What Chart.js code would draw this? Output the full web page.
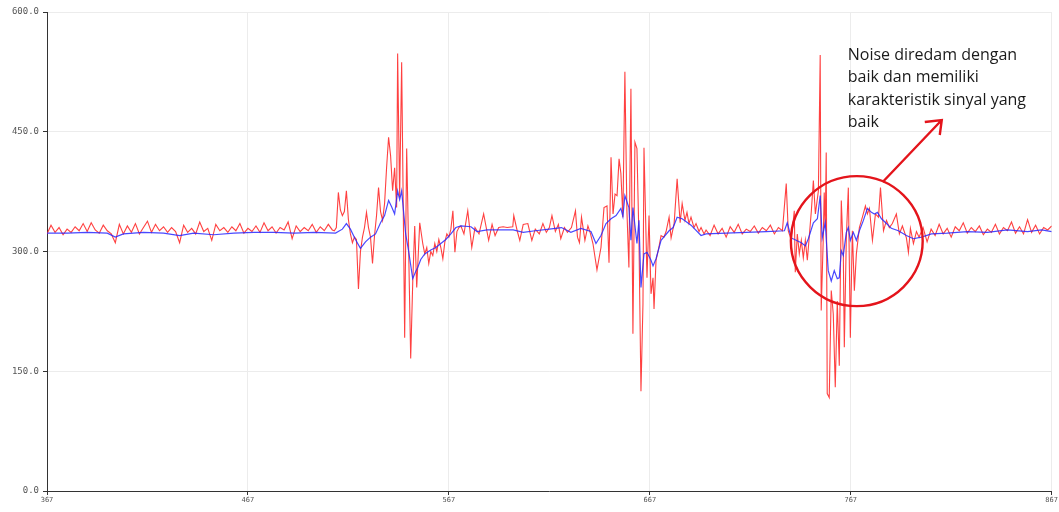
<!DOCTYPE html>
<html>
<head>
<meta charset="utf-8">
<script src="https://cdn.jsdelivr.net/npm/chart.js@4.4.1/dist/chart.umd.min.js"></script>
<style>
  html, body { margin: 0; padding: 0; background: #fff; }
  #wrap { width: 1059px; height: 512px; }
</style>
</head>
<body>
<div id="wrap"><canvas id="chart" width="1059" height="512"></canvas></div>
<script>
var xTicks = [367, 467, 567, 667, 767, 867];
var yTicks = [0, 150, 300, 450, 600];

// raw signal (red)
var rawX = [
  367, 369, 371, 373, 375, 377, 379, 381, 383, 385, 387, 389, 391, 393, 395, 397, 399, 401, 403, 405,
  407, 409, 411, 413, 415, 417, 419, 421, 423, 425, 427, 429, 431, 433, 435, 437, 439, 441, 443, 445,
  447, 449, 451, 453, 455, 457, 459, 461, 463, 465, 467, 469, 471, 473, 475, 477, 479, 481, 483, 485,
  487, 489, 491, 493, 495, 497, 499, 501, 503, 505, 507, 509,
  510, 511, 512, 513, 514, 515, 516, 517, 518, 519, 520, 521, 522, 523, 524, 525, 526, 527, 528, 529,
  530, 531, 532, 533, 534, 535, 536, 537, 538, 539, 540, 541, 541.5, 542.5, 543.5, 544.5, 545, 546, 547, 548,
  549, 550, 551, 552.5, 554, 555, 556, 557, 558, 559, 560, 561, 562, 563, 564, 565, 566, 567, 568, 569,
  570, 571,
  572, 573, 574.5, 576.4, 578.4, 580, 582, 584.3, 586.8, 588.5, 590, 591.8, 594, 596, 598.8, 599.3, 601, 602.3, 604, 606.3,
  608.3, 610, 612, 613.8, 615.5, 617, 618.3, 620, 621.5, 622.7, 624.5, 626,
  628, 630, 631, 632, 633, 634.7, 636.2, 637.5, 638.7, 640.7, 642.7, 644.2, 645.7, 646.7, 647.7, 648.7, 649.7, 650.7, 651.7, 652.6,
  653.6, 654.6, 655.6, 656.6, 657.6, 658.6, 659.6, 660.6, 661.6, 662.6, 663.6, 664.1, 665.6, 666.6, 667.6, 668.6, 669.1, 670.1, 671.5, 672.6,
  674, 675.1, 676.6, 677.6, 679.1, 680.6, 682.1, 683.1, 684.5, 685.5, 686.5, 687.5, 689, 690, 691.5, 692.5, 694,
  695, 697, 699, 701, 703, 705, 707, 709, 711, 713, 715, 717, 719, 721, 723, 725, 727, 729, 731, 733,
  734.9, 735.9, 737.4, 738.9, 739.4, 740.4, 741.4, 742.4, 743.4, 744.4, 745.4, 746.4, 747.4, 748.4, 749.4, 750.9, 751.8, 752.3, 753.3, 753.8,
  754.3, 754.8, 755.3, 756.3, 757.3, 758.3, 759.3, 760.3, 761.3, 762.3, 763.3, 763.8, 764.8, 765.8, 766.8, 767.8, 768.8, 769.8, 771.3, 772.8,
  774.3, 775.3, 776.3, 777.8, 779.3, 780.8, 781.8, 783.3, 784.8, 786.2, 787.7, 789.7, 791.2, 792.7, 794.7, 795.7, 796.7, 798.2,
  799.7, 801, 803, 805, 807, 809, 811, 813, 815, 817, 819, 821, 823, 825, 827, 829, 831, 833, 835, 837,
  839, 841, 843, 845, 847, 849, 851, 853, 855, 857, 859, 861, 863, 865, 867
];
var rawY = [
  322, 333, 324, 330, 321, 328, 324, 331, 326, 335, 325, 336, 327, 323, 333, 326, 322, 311, 334, 322,
  332, 324, 335, 322, 330, 338, 324, 334, 326, 331, 324, 330, 325, 311, 333, 324, 329, 322, 337, 325,
  329, 314, 334, 326, 330, 324, 331, 326, 335, 323, 329, 325, 332, 324, 336, 326, 331, 323, 330, 327,
  337, 316, 332, 325, 330, 326, 334, 324, 331, 326, 334, 327,
  326, 330, 374, 352, 345, 350, 376, 340, 322, 311, 318, 315, 253, 300, 318, 330, 349, 330, 318, 285,
  320, 345, 380, 350, 339, 360, 405, 443, 420, 376, 405, 355, 548, 368, 537, 310, 192, 429, 300, 166,
  260, 332, 255, 336, 310, 297, 305, 285, 300, 295, 310, 300, 315, 305, 291, 312, 322, 318, 328, 351,
  299, 325,
  330, 332, 322, 351, 305, 330, 322, 347, 314, 334, 320, 330, 331, 330, 331, 345, 326, 314, 334, 335,
  314, 328, 322, 335, 324, 330, 345, 325, 334, 316, 330, 324,
  330, 351, 318, 311, 343, 314, 332, 322, 310, 277, 305, 355, 357, 286, 418, 347, 372, 370, 416, 398,
  343, 525, 351, 280, 504, 197, 437, 429, 317, 125, 235, 430, 267, 345, 247, 267, 228, 289, 305, 320,
  318, 325, 343, 317, 335, 391, 336, 360, 339, 349, 335, 343, 330, 335, 325, 330, 322,
  327, 320, 333, 322, 329, 318, 331, 324, 334, 322, 328, 325, 332, 323, 330, 326, 333, 322, 330, 326,
  385, 326, 314, 351, 274, 322, 297, 314, 292, 314, 289, 320, 351, 389, 347, 376, 546, 226, 314, 374,
  330, 424, 122, 117, 251, 222, 130, 238, 157, 364, 297, 180, 317, 380, 192, 326, 251, 297, 330, 343,
  357, 347, 354, 314, 347, 343, 380, 326, 339, 330, 335, 347, 322, 332, 317, 299, 329, 310,
  325, 318, 330, 312, 328, 320, 334, 322, 329, 318, 331, 326, 336, 323, 330, 325, 332, 321, 328, 324,
  334, 322, 330, 326, 337, 323, 331, 322, 340, 324, 333, 322, 330, 327, 332
];

// filtered signal (blue)
var filtX = [
  367, 377, 387, 397, 401, 405, 415, 425, 433, 440, 450, 460, 470, 480, 490, 500,
  510.6, 514, 516, 518, 520.5, 523, 525.5, 528, 530.5, 533, 535, 537, 538.5, 540, 541.5, 542.5, 543.5, 545.5, 547, 549,
  550.5, 551.5, 553, 555, 558, 560.5, 563, 565.5, 568, 570.5,
  573, 578, 581, 586, 592, 599, 604, 610, 617, 623,
  627.7, 632.7, 637.7, 640.2, 642.7, 645.2, 647.7, 650.2, 652.6, 653.6, 654.6, 656.6, 657.6, 658.6, 660.6, 661.6, 662.6, 664.1, 665.6, 667.6,
  668.6, 670.1, 672.6, 676.6, 678.6, 680.6, 683.1, 687.5, 692.5,
  695, 705, 715, 725, 734,
  735.4, 737.4, 742.4, 744.4, 745.9, 748.4, 750.4, 751.8, 752.8, 754.3, 755.8, 757.3, 758.8, 760.3, 761.3, 762.3, 763.3, 764.8, 765.8, 766.8,
  768.3, 769.8, 771.3, 773.3, 775.3, 777.3, 778.8, 780.3, 782.3, 784.8, 787.2, 790.7, 794.7, 798.2,
  802.2, 807.2, 815, 825, 835, 845, 855, 862, 867
];
var filtY = [
  323, 323, 324, 323, 318, 322, 324, 323, 320, 323, 321, 323, 324, 324, 323, 324,
  323, 328, 335, 328, 315, 304, 312, 318, 322, 336, 345, 364, 356, 347, 376, 365, 376, 322, 300, 266,
  275, 280, 290, 297, 302, 305, 310, 315, 322, 330,
  332, 331, 325, 327, 327, 327, 324, 326, 328, 330,
  324, 329, 325, 310, 320, 335, 341, 345, 354, 344, 370, 355, 314, 355, 310, 339, 255, 297, 299, 289,
  282, 291, 314, 326, 330, 343, 341, 333, 320,
  322, 323, 324, 325, 326,
  336, 317, 311, 307, 316, 336, 341, 370, 317, 336, 276, 263, 276, 266, 267, 301, 295, 324, 330, 314,
  324, 314, 326, 339, 354, 349, 347, 349, 341, 335, 329, 326, 320, 316,
  318, 322, 323, 325, 324, 327, 325, 327, 325
];

var noteLines = [
  "Noise diredam dengan",
  "baik dan memiliki",
  "karakteristik sinyal yang",
  "baik"
];

function pairs(xs, ys) {
  return xs.map(function(x, i) { return { x: x, y: ys[i] }; });
}

var notePlugin = {
  id: "note",
  afterDraw: function(chart) {
    var ctx = chart.ctx;
    var xs = chart.scales.x;
    var ys = chart.scales.y;
    ctx.save();

    // circle around the third burst
    var cx = xs.getPixelForValue(770);
    var cy = ys.getPixelForValue(313);
    var rx = xs.getPixelForValue(770 + 32.8) - cx;
    var ry = cy - ys.getPixelForValue(313 + 81.4);
    ctx.strokeStyle = "#e4141b";
    ctx.lineWidth = 2.4;
    ctx.beginPath();
    ctx.ellipse(cx, cy, rx, ry, 0, 0, Math.PI * 2);
    ctx.stroke();

    // arrow
    var ax = xs.getPixelForValue(782.9), ay = ys.getPixelForValue(387);
    var tx = xs.getPixelForValue(812.3), ty = ys.getPixelForValue(464.7);
    ctx.beginPath();
    ctx.moveTo(ax, ay);
    ctx.lineTo(tx, ty);
    ctx.moveTo(tx - 17, ty + 2);
    ctx.lineTo(tx, ty);
    ctx.lineTo(tx - 2, ty + 15);
    ctx.stroke();

    // text
    ctx.fillStyle = "#1a1a1a";
    ctx.font = "16px 'Open Sans'";
    ctx.textBaseline = "middle";
    ctx.textAlign = "left";
    var left = xs.getPixelForValue(765.5);
    var top = ys.getPixelForValue(546);
    noteLines.forEach(function(line, i) {
      ctx.fillText(line, left, top + i * 22.5);
    });
    ctx.restore();
  }
};

var ctx = document.getElementById("chart").getContext("2d");
new Chart(ctx, {
  type: "line",
  data: {
    datasets: [
      {
        label: "filtered",
        data: pairs(filtX, filtY),
        borderColor: "rgba(40, 40, 255, 0.85)",
        borderWidth: 1.2,
        pointRadius: 0,
        tension: 0,
        order: 1
      },
      {
        label: "raw",
        data: pairs(rawX, rawY),
        borderColor: "rgba(255, 30, 30, 0.85)",
        borderWidth: 1.1,
        pointRadius: 0,
        tension: 0,
        order: 2
      }
    ]
  },
  options: {
    responsive: false,
    animation: false,
    devicePixelRatio: 1,
    layout: { padding: { top: 12, right: 7, left: 0, bottom: 0 } },
    plugins: {
      legend: { display: false },
      tooltip: { enabled: false }
    },
    scales: {
      x: {
        type: "linear",
        min: 367,
        max: 867,
        afterBuildTicks: function(scale) {
          scale.ticks = xTicks.map(function(v) { return { value: v }; });
        },
        afterFit: function(scale) { scale.height = 21; },
        ticks: {
          autoSkip: false,
          maxRotation: 0,
          color: "#555",
          padding: 1,
          font: { family: "DejaVu Sans Mono", size: 7 },
          callback: function(v) { return String(v); }
        },
        grid: { color: "#ececec", tickColor: "#333", tickLength: 4 },
        border: { color: "#333", width: 1 }
      },
      y: {
        min: 0,
        max: 600,
        afterBuildTicks: function(scale) {
          scale.ticks = yTicks.map(function(v) { return { value: v }; });
        },
        afterFit: function(scale) { scale.width = 47; },
        ticks: {
          color: "#555",
          padding: 4,
          font: { family: "DejaVu Sans Mono", size: 9 },
          callback: function(v) { return v.toFixed(1); }
        },
        grid: { color: "#ececec", tickColor: "#333", tickLength: 4 },
        border: { color: "#333", width: 1 }
      }
    }
  },
  plugins: [notePlugin]
});
</script>
</body>
</html>
